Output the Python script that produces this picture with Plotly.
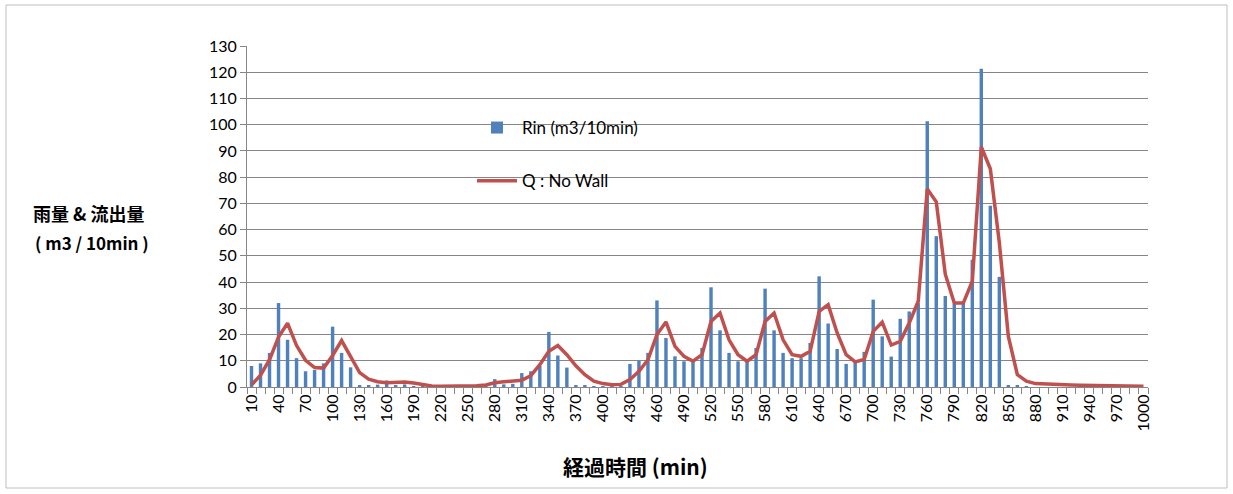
import plotly.graph_objects as go

minutes = list(range(10, 1001, 10))

rin = [8, 9, 13, 32, 18, 11, 6, 6.5, 9, 23,
       13, 7.5, 0.6, 0.6, 0.9, 2.5, 0.5, 1, 0.3, 0.3,
       0.2, 0.1, 0.1, 0.1, 0.1, 0.1, 0.2, 3, 1, 1.2,
       5.3, 6, 8, 21, 12, 7.4, 0.5, 0.5, 0.3, 0.3,
       0.2, 0.2, 8.8, 10, 13, 33, 18.7, 11.7, 9.8, 9.8,
       14.9, 38, 21.6, 13, 9.8, 9.8, 14.9, 37.5, 21.6, 13,
       11, 11, 16.8, 42.2, 24.2, 14.5, 8.8, 9.5, 13.4, 33.3,
       19.3, 11.6, 26, 28.8, 32, 101.3, 57.5, 34.7, 31.8, 32,
       48.5, 121.3, 69.1, 42, 0.5, 0.5, 0.3, 0, 0, 0,
       0, 0, 0, 0, 0, 0, 0, 0, 0, 0]

q_no_wall = [0.8, 4.5, 10.4, 19, 24.3, 15.8, 10.2, 7.4, 7.2, 12,
             17.7, 11.8, 5.5, 3, 2, 1.6, 1.8, 1.9, 1.5, 0.8,
             0.4, 0.3, 0.3, 0.3, 0.3, 0.5, 0.8, 1.6, 2, 2.2,
             2.6, 4.3, 8.5, 13.6, 15.8, 12.3, 8.1, 4.7, 2.2, 1.3,
             0.9, 1, 2.8, 6, 10.4, 20, 24.8, 15.5, 11.7, 9.8,
             12.3, 25, 28.2, 18, 12.3, 9.8, 12.3, 25, 28.2, 18,
             12.3, 11.7, 13.6, 28.8, 31.4, 20.6, 12.3, 9.6, 10.5, 21.2,
             24.7, 16, 17.4, 24.4, 32.7, 75.5, 70.6, 43, 32, 32,
             40.3, 91.5, 83.2, 55, 19.3, 4.7, 2.2, 1.3, 1.1, 1,
             0.9, 0.8, 0.7, 0.6, 0.6, 0.5, 0.4, 0.4, 0.3, 0.3]

x_tick_labels = list(range(10, 1001, 30))
y_ticks = list(range(0, 131, 10))

FONT = "Lato, 'Noto Sans CJK JP', sans-serif"
CJK = "'Noto Sans CJK JP', sans-serif"

fig = go.Figure()
fig.add_trace(go.Bar(
    x=minutes, y=rin, name="Rin (m3/10min)",
    marker=dict(color="#4F81BD", line=dict(width=0)),
    width=3.8, legendgroup="a",
))
fig.add_trace(go.Scatter(
    x=minutes, y=q_no_wall, name="Q : No Wall", mode="lines",
    line=dict(color="#C0504D", width=3.5), legendgroup="b",
))

W, H = 1233, 494
L, R, T, B = 247, W - 1148, 46, H - 387
pw, ph = W - L - R, H - T - B


def px(x):
    return (x - L) / pw


def py(y):
    return (387 - y) / ph


fig.update_layout(
    width=W, height=H,
    margin=dict(l=L, r=R, t=T, b=B),
    paper_bgcolor="white", plot_bgcolor="white",
    font=dict(family=FONT, size=16, color="#000000"),
    showlegend=True,
    legend=dict(
        x=px(472), y=py(110), xanchor="left", yanchor="top",
        bgcolor="rgba(0,0,0,0)", font=dict(size=17, family=FONT),
        traceorder="grouped", tracegroupgap=28, itemwidth=40,
    ),
    xaxis=dict(
        range=[5, 1005], tickmode="array", tickvals=x_tick_labels,
        ticktext=[str(v) for v in x_tick_labels], tickangle=-90,
        ticks="", showgrid=False, zeroline=False,
        showline=True, linecolor="#868686", linewidth=1,
        tickfont=dict(size=16, family=FONT),
        minor=dict(ticks="outside", tickmode="linear", tick0=5, dtick=10,
                   ticklen=6, tickcolor="#868686", showgrid=False),
    ),
    yaxis=dict(
        range=[0, 130], tickmode="array", tickvals=y_ticks,
        ticks="outside", ticklen=6, tickcolor="#868686",
        showgrid=True, gridcolor="#868686", gridwidth=1,
        zeroline=False, showline=True, linecolor="#868686", linewidth=1,
        tickfont=dict(size=16, family=FONT),
    ),
    annotations=[
        dict(text="<b>雨量 & 流出量</b>",
             xref="paper", yref="paper",
             x=px(89), y=py(213),
             xanchor="center", yanchor="middle", showarrow=False,
             font=dict(size=18, family=CJK, color="#000000")),
        dict(text="<b>( m3 / 10min )</b>",
             xref="paper", yref="paper",
             x=px(92), y=py(243),
             xanchor="center", yanchor="middle", showarrow=False,
             font=dict(size=17, family=CJK, color="#000000")),
        dict(text="<b>経過時間 (min)</b>",
             xref="paper", yref="paper",
             x=px(635), y=py(466),
             xanchor="center", yanchor="middle", showarrow=False,
             font=dict(size=21, family=CJK, color="#000000")),
    ],
    shapes=[
        dict(type="rect", xref="paper", yref="paper",
             x0=px(6), x1=px(1227),
             y0=py(488), y1=py(5),
             line=dict(color="#BFBFBF", width=1), fillcolor="rgba(0,0,0,0)",
             layer="below"),
    ],
)

fig.write_html("out.html", config={"displayModeBar": False},
               post_script="document.body.style.margin='0px';")
